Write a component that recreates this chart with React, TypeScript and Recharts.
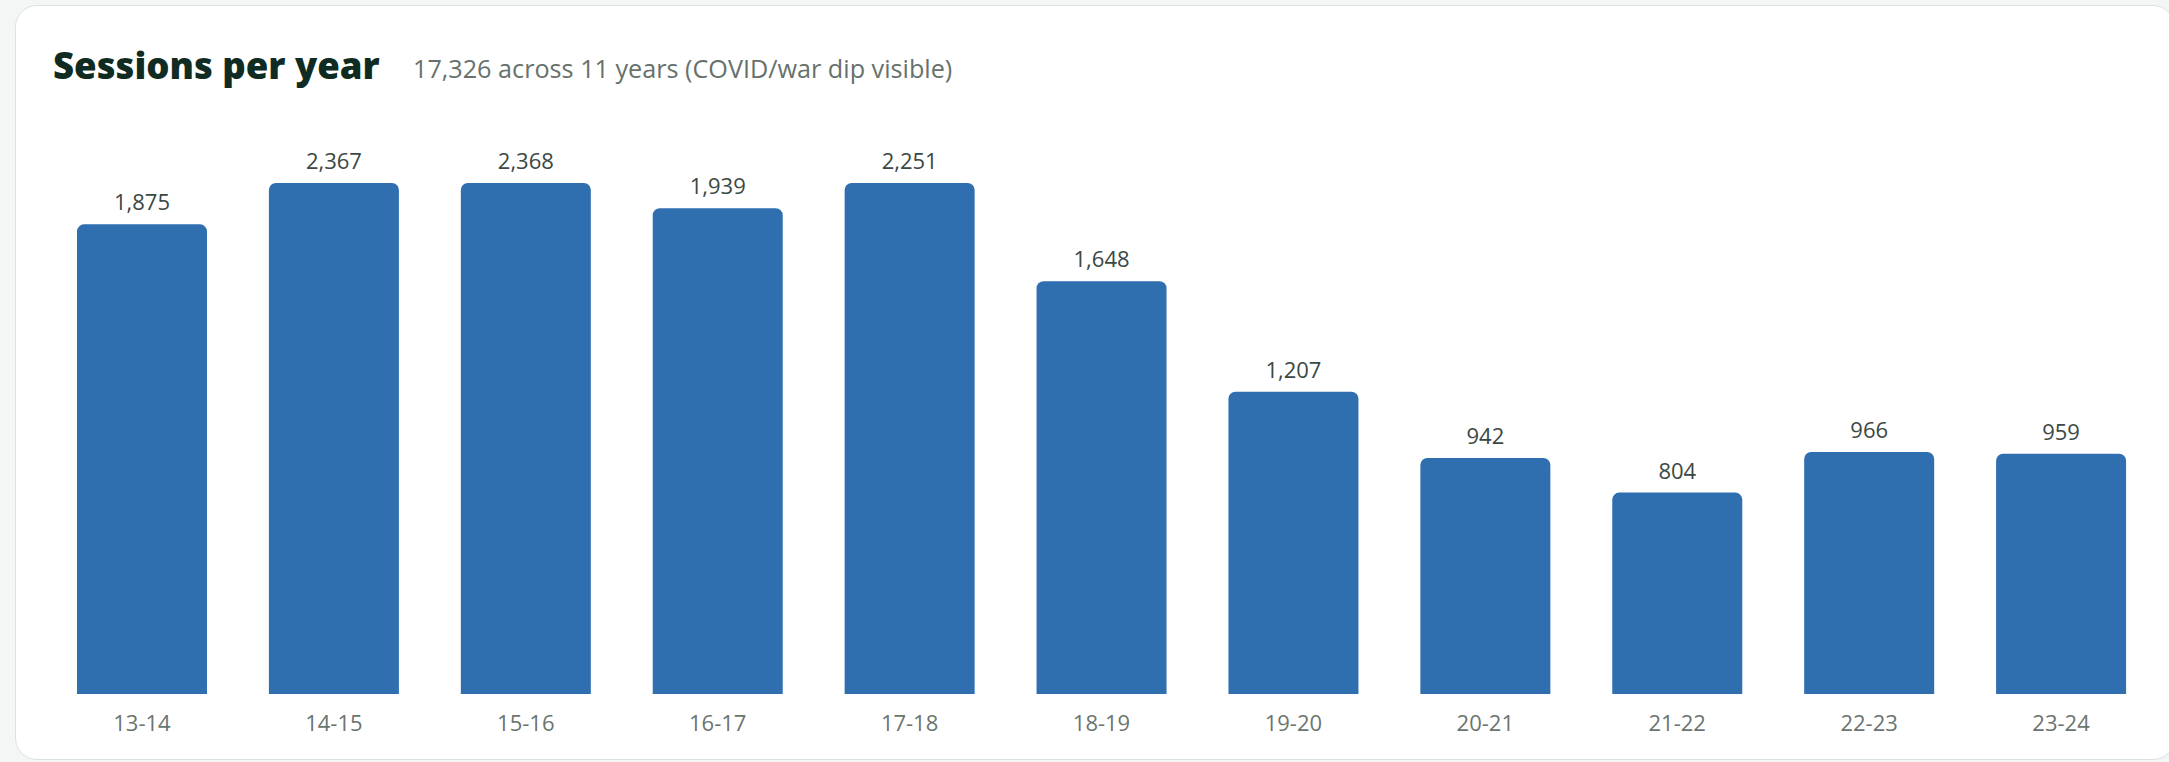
import React from "react";
import { BarChart, Bar, XAxis, YAxis, LabelList } from "recharts";

const years = ["13-14", "14-15", "15-16", "16-17", "17-18", "18-19", "19-20", "20-21", "21-22", "22-23", "23-24"];
const sessions = [1875, 2367, 2368, 1939, 2251, 1648, 1207, 942, 804, 966, 959];
const yDomainMax = 2040;
const titleText = "Sessions per year";
const subtitleText = "17,326 across 11 years (COVID/war dip visible)";

const data = years.map((year, i) => ({ year, sessions: sessions[i] }));

const FONT = "'Open Sans', 'Noto Sans', sans-serif";

export default function App() {
  return (
    <div
      style={{
        position: "absolute",
        left: 0,
        top: 0,
        width: 2169,
        height: 762,
        overflow: "hidden",
        background: "#f4f6f5",
        fontFamily: FONT,
      }}
    >
      <div
        style={{
          position: "absolute",
          left: 15,
          top: 5,
          width: 2160,
          height: 755,
          boxSizing: "border-box",
          border: "1.5px solid #dbe3e0",
          borderRadius: 22,
          background: "#ffffff",
        }}
      />
      <div
        style={{
          position: "absolute",
          left: 53,
          top: 47,
          fontSize: 36.5,
          lineHeight: 1,
          fontWeight: 900,
          color: "#0f2b22",
          whiteSpace: "nowrap",
        }}
      >
        {titleText}
      </div>
      <div
        style={{
          position: "absolute",
          left: 413,
          top: 56,
          fontSize: 25.2,
          lineHeight: 1,
          color: "#66716c",
          whiteSpace: "nowrap",
        }}
      >
        {subtitleText}
      </div>
      <div style={{ position: "absolute", left: 0, top: 0 }}>
        <BarChart
          width={2169}
          height={762}
          data={data}
          margin={{ top: 183, right: 12, bottom: 27, left: 46 }}
        >
          <XAxis
            dataKey="year"
            axisLine={false}
            tickLine={false}
            height={41}
            tickMargin={15}
            interval={0}
            tick={{ fill: "#6b7570", fontSize: 22, fontFamily: FONT }}
          />
          <YAxis hide domain={[0, yDomainMax]} allowDataOverflow />
          <Bar
            dataKey="sessions"
            stackId="s"
            fill="#2f6fb0"
            barSize={130}
            radius={[7, 7, 0, 0]}
            isAnimationActive={false}
          >
            <LabelList
              dataKey="sessions"
              position="top"
              offset={14}
              formatter={(v: number) => v.toLocaleString("en-US")}
              style={{ fill: "#3b4843", fontSize: 22, fontFamily: FONT }}
            />
          </Bar>
        </BarChart>
      </div>
    </div>
  );
}
